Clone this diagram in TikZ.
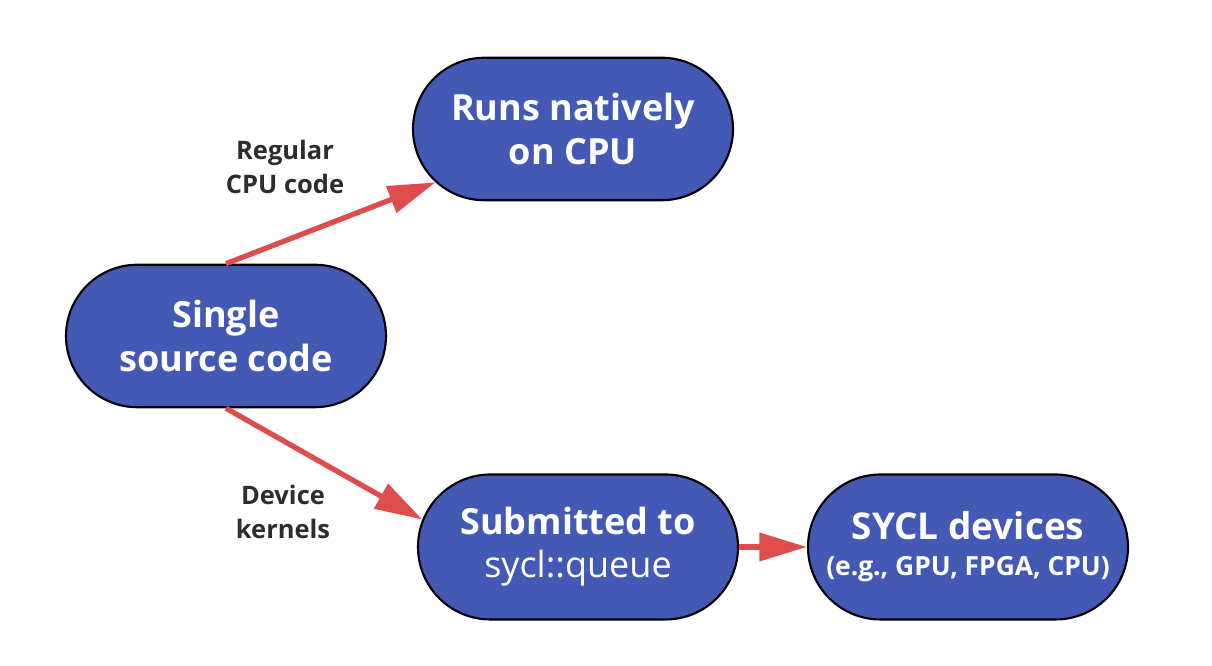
\documentclass[tikz,border=0pt]{standalone}
\usepackage{fontspec}
\setmainfont{Open Sans}
\usepackage{tikz}
\usetikzlibrary{arrows.meta, shapes.misc}
\definecolor{pillblue}{RGB}{68, 89, 180}
\definecolor{flowred}{RGB}{222, 76, 76}
\definecolor{notegray}{RGB}{45, 45, 45}

\begin{document}
\begin{tikzpicture}[
  pill/.style={rounded rectangle, draw=black, line width=1.2pt, fill=pillblue,
    text=white, align=center, inner xsep=-1.2cm, inner ysep=0pt,
    minimum width=4cm, minimum height=2.85cm,
    font=\bfseries\fontsize{20.5}{24.5}\selectfont},
  flow/.style={-{Triangle[length=0.95cm, width=0.55cm]}, line width=3pt, flowred},
  note/.style={text=notegray, align=center, font=\bfseries\fontsize{14.5}{19.5}\selectfont}
]

  \useasboundingbox (0, 0) rectangle (24.24, 13.32);

  \node[pill] (single) at (4.52, 6.6) {Single\\source code};
  \node[pill] (native) at (11.46, 10.74) {Runs natively\\on CPU};
  \node[pill, minimum height=2.9cm] (submit) at (11.56, 2.38)
    {Submitted to\\\mdseries sycl::queue};
  \node[pill, minimum height=2.9cm] (devices) at (19.36, 2.38)
    {\fontsize{21}{24.5}\selectfont SYCL devices\\[-4pt]\fontsize{15}{17}\selectfont (e.g., GPU, FPGA, CPU)};

  \node[note] (cpulabel) at (5.7, 9.98) {Regular\\CPU code};
  \node[note] (devlabel) at (5.66, 3.08) {Device\\kernels};

  \draw[flow] (single.north) -- (native);
  \draw[flow] (single.south) -- (submit.170);
  \draw[flow] (submit.east) -- (devices.west);

\end{tikzpicture}
\end{document}
